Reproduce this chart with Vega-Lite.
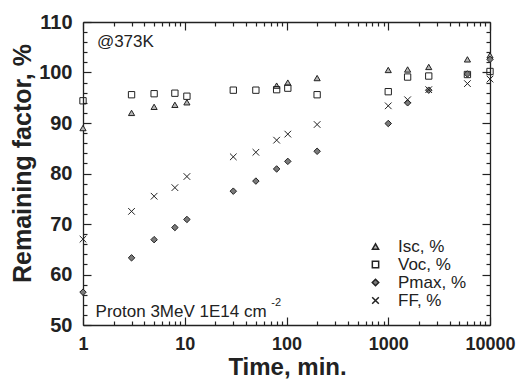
{
  "$schema": "https://vega.github.io/schema/vega-lite/v6.json",
  "width": 407,
  "height": 303,
  "autosize": "none",
  "padding": {"left": 83, "top": 22, "right": 26, "bottom": 54},
  "background": "white",
  "config": {"view": {"stroke": null}, "font": "Liberation Sans"},
  "datasets": {
    "points": [
      {"time": 1, "value": 89.0, "series": "Isc, %"},
      {"time": 3, "value": 92.0, "series": "Isc, %"},
      {"time": 5, "value": 93.2, "series": "Isc, %"},
      {"time": 8, "value": 93.6, "series": "Isc, %"},
      {"time": 10.5, "value": 94.1, "series": "Isc, %"},
      {"time": 80, "value": 97.4, "series": "Isc, %"},
      {"time": 103, "value": 98.0, "series": "Isc, %"},
      {"time": 200, "value": 98.9, "series": "Isc, %"},
      {"time": 1000, "value": 100.5, "series": "Isc, %"},
      {"time": 1550, "value": 100.6, "series": "Isc, %"},
      {"time": 2500, "value": 101.1, "series": "Isc, %"},
      {"time": 6000, "value": 102.6, "series": "Isc, %"},
      {"time": 10000, "value": 103.4, "series": "Isc, %"},
      {"time": 1, "value": 94.4, "series": "Voc, %"},
      {"time": 3, "value": 95.6, "series": "Voc, %"},
      {"time": 5, "value": 95.8, "series": "Voc, %"},
      {"time": 8, "value": 95.9, "series": "Voc, %"},
      {"time": 10.5, "value": 95.3, "series": "Voc, %"},
      {"time": 30, "value": 96.5, "series": "Voc, %"},
      {"time": 50, "value": 96.5, "series": "Voc, %"},
      {"time": 80, "value": 96.6, "series": "Voc, %"},
      {"time": 103, "value": 96.9, "series": "Voc, %"},
      {"time": 200, "value": 95.6, "series": "Voc, %"},
      {"time": 1000, "value": 96.2, "series": "Voc, %"},
      {"time": 1550, "value": 99.1, "series": "Voc, %"},
      {"time": 2500, "value": 99.3, "series": "Voc, %"},
      {"time": 6000, "value": 99.6, "series": "Voc, %"},
      {"time": 10000, "value": 100.2, "series": "Voc, %"},
      {"time": 1, "value": 56.5, "series": "Pmax, %"},
      {"time": 3, "value": 63.3, "series": "Pmax, %"},
      {"time": 5, "value": 66.9, "series": "Pmax, %"},
      {"time": 8, "value": 69.3, "series": "Pmax, %"},
      {"time": 10.5, "value": 70.9, "series": "Pmax, %"},
      {"time": 30, "value": 76.5, "series": "Pmax, %"},
      {"time": 50, "value": 78.5, "series": "Pmax, %"},
      {"time": 80, "value": 80.9, "series": "Pmax, %"},
      {"time": 103, "value": 82.4, "series": "Pmax, %"},
      {"time": 200, "value": 84.4, "series": "Pmax, %"},
      {"time": 1000, "value": 89.9, "series": "Pmax, %"},
      {"time": 1550, "value": 94.0, "series": "Pmax, %"},
      {"time": 2500, "value": 96.5, "series": "Pmax, %"},
      {"time": 6000, "value": 99.7, "series": "Pmax, %"},
      {"time": 10000, "value": 102.6, "series": "Pmax, %"},
      {"time": 1, "value": 67.0, "series": "FF, %"},
      {"time": 3, "value": 72.5, "series": "FF, %"},
      {"time": 5, "value": 75.5, "series": "FF, %"},
      {"time": 8, "value": 77.2, "series": "FF, %"},
      {"time": 10.5, "value": 79.4, "series": "FF, %"},
      {"time": 30, "value": 83.3, "series": "FF, %"},
      {"time": 50, "value": 84.2, "series": "FF, %"},
      {"time": 80, "value": 86.6, "series": "FF, %"},
      {"time": 103, "value": 87.8, "series": "FF, %"},
      {"time": 200, "value": 89.7, "series": "FF, %"},
      {"time": 1000, "value": 93.4, "series": "FF, %"},
      {"time": 1550, "value": 94.6, "series": "FF, %"},
      {"time": 2500, "value": 96.6, "series": "FF, %"},
      {"time": 6000, "value": 97.8, "series": "FF, %"},
      {"time": 10000, "value": 98.7, "series": "FF, %"}
    ],
    "notes": [
      {"time": 1.37, "value": 106.1, "label": "@373K"},
      {"time": 1.33, "value": 52.6, "label": "Proton 3MeV 1E14 cm"}
    ],
    "sup": [
      {"time": 71, "value": 54.4, "label": "-2"}
    ]
  },
  "layer": [
    {
      "data": {"name": "points"},
      "mark": {"type": "point", "filled": true, "strokeWidth": 1, "opacity": 1, "clip": false},
      "encoding": {
        "x": {
          "field": "time", "type": "quantitative",
          "scale": {"type": "log", "domain": [1, 10000], "nice": false},
          "axis": {
            "orient": "bottom",
            "values": [1,2,3,4,5,6,7,8,9,10,20,30,40,50,60,70,80,90,100,200,300,400,500,600,700,800,900,1000,2000,3000,4000,5000,6000,7000,8000,9000,10000],
            "format": "d",
            "labelExpr": "abs(log(datum.value)/LN10 - round(log(datum.value)/LN10)) < 0.001 ? datum.label : ''",
            "tickSize": {"condition": {"test": "abs(log(datum.value)/LN10 - round(log(datum.value)/LN10)) < 0.001", "value": -8}, "value": -4},
            "labelPadding": 18,
            "labelFlush": false,
            "labelOverlap": false,
            "labelFont": "Liberation Sans",
            "labelFontSize": 18,
            "labelFontWeight": "bold",
            "labelColor": "#222",
            "domainColor": "#222",
            "domainWidth": 1.3,
            "tickColor": "#222",
            "tickWidth": 1.2,
            "grid": false,
            "title": "Time, min.",
            "titleFont": "Liberation Sans",
            "titleFontSize": 24,
            "titleFontWeight": "bold",
            "titleColor": "#222",
            "titleX": 204,
            "titleY": 49,
            "titleBaseline": "alphabetic",
            "titleAlign": "center"
          }
        },
        "y": {
          "field": "value", "type": "quantitative",
          "scale": {"domain": [50, 110], "nice": false, "zero": false},
          "axis": {
            "orient": "left",
            "values": [50,52,54,56,58,60,62,64,66,68,70,72,74,76,78,80,82,84,86,88,90,92,94,96,98,100,102,104,106,108,110],
            "labelExpr": "datum.value % 10 === 0 ? datum.label : ''",
            "tickSize": {"condition": {"test": "datum.value % 10 === 0", "value": -8}, "value": -4},
            "labelPadding": 19,
            "labelFlush": false,
            "labelOverlap": false,
            "labelFont": "Liberation Sans",
            "labelFontSize": 20,
            "labelFontWeight": "bold",
            "labelColor": "#222",
            "domainColor": "#222",
            "domainWidth": 1.3,
            "tickColor": "#222",
            "tickWidth": 1.2,
            "grid": false,
            "title": "Remaining factor, %",
            "titleFont": "Liberation Sans",
            "titleFontSize": 25,
            "titleFontWeight": "bold",
            "titleColor": "#222",
            "titleX": -53,
            "titleY": 141,
            "titleBaseline": "alphabetic",
            "titleAlign": "center",
            "titleAngle": -90
          }
        },
        "shape": {
          "field": "series", "type": "nominal",
          "scale": {"domain": ["Isc, %", "Voc, %", "Pmax, %", "FF, %"], "range": ["triangle-up", "square", "diamond", "M-1,-1L1,1M-1,1L1,-1"]},
          "legend": {"orient": "none", "legendX": 284, "legendY": 216, "title": null, "labelFont": "Liberation Sans", "labelFontSize": 17, "labelColor": "#222", "rowPadding": 0, "labelOffset": 14}
        },
        "fill": {
          "field": "series", "type": "nominal",
          "scale": {"domain": ["Isc, %", "Voc, %", "Pmax, %", "FF, %"], "range": ["#b5b5b5", "transparent", "#7a7a7a", "transparent"]},
          "legend": {"orient": "none", "legendX": 284, "legendY": 216, "title": null, "labelFont": "Liberation Sans", "labelFontSize": 17, "labelColor": "#222", "rowPadding": 0, "labelOffset": 14}
        },
        "stroke": {
          "field": "series", "type": "nominal",
          "scale": {"domain": ["Isc, %", "Voc, %", "Pmax, %", "FF, %"], "range": ["#222", "#222", "#222", "#222"]},
          "legend": {"orient": "none", "legendX": 284, "legendY": 216, "title": null, "labelFont": "Liberation Sans", "labelFontSize": 17, "labelColor": "#222", "rowPadding": 0, "labelOffset": 14}
        },
        "size": {
          "field": "series", "type": "nominal",
          "scale": {"domain": ["Isc, %", "Voc, %", "Pmax, %", "FF, %"], "range": [38, 44, 30, 60]},
          "legend": {"orient": "none", "legendX": 284, "legendY": 216, "title": null, "labelFont": "Liberation Sans", "labelFontSize": 17, "labelColor": "#222", "rowPadding": 0, "labelOffset": 14}
        }
      }
    },
    {
      "data": {"name": "notes"},
      "mark": {"type": "text", "align": "left", "baseline": "middle", "font": "Liberation Sans", "fontSize": 17, "color": "#222"},
      "encoding": {
        "x": {
          "field": "time", "type": "quantitative",
          "scale": {"type": "log", "domain": [1, 10000], "nice": false},
          "axis": {
            "orient": "top",
            "values": [1,2,3,4,5,6,7,8,9,10,20,30,40,50,60,70,80,90,100,200,300,400,500,600,700,800,900,1000,2000,3000,4000,5000,6000,7000,8000,9000,10000],
            "labels": false,
            "tickSize": {"condition": {"test": "abs(log(datum.value)/LN10 - round(log(datum.value)/LN10)) < 0.001", "value": -8}, "value": -4},
            "domainColor": "#222",
            "domainWidth": 1.3,
            "tickColor": "#222",
            "tickWidth": 1.2,
            "grid": false,
            "title": null
          }
        },
        "y": {
          "field": "value", "type": "quantitative",
          "scale": {"domain": [50, 110], "nice": false, "zero": false},
          "axis": {
            "orient": "right",
            "values": [50,52,54,56,58,60,62,64,66,68,70,72,74,76,78,80,82,84,86,88,90,92,94,96,98,100,102,104,106,108,110],
            "labels": false,
            "tickSize": {"condition": {"test": "datum.value % 10 === 0", "value": -8}, "value": -4},
            "domainColor": "#222",
            "domainWidth": 1.3,
            "tickColor": "#222",
            "tickWidth": 1.2,
            "grid": false,
            "title": null
          }
        },
        "text": {"field": "label"}
      }
    },
    {
      "data": {"name": "sup"},
      "mark": {"type": "text", "align": "left", "baseline": "middle", "font": "Liberation Sans", "fontSize": 11, "color": "#222"},
      "encoding": {
        "x": {"field": "time", "type": "quantitative", "axis": null},
        "y": {"field": "value", "type": "quantitative", "axis": null},
        "text": {"field": "label"}
      }
    }
  ],
  "resolve": {"axis": {"x": "independent", "y": "independent"}}
}
